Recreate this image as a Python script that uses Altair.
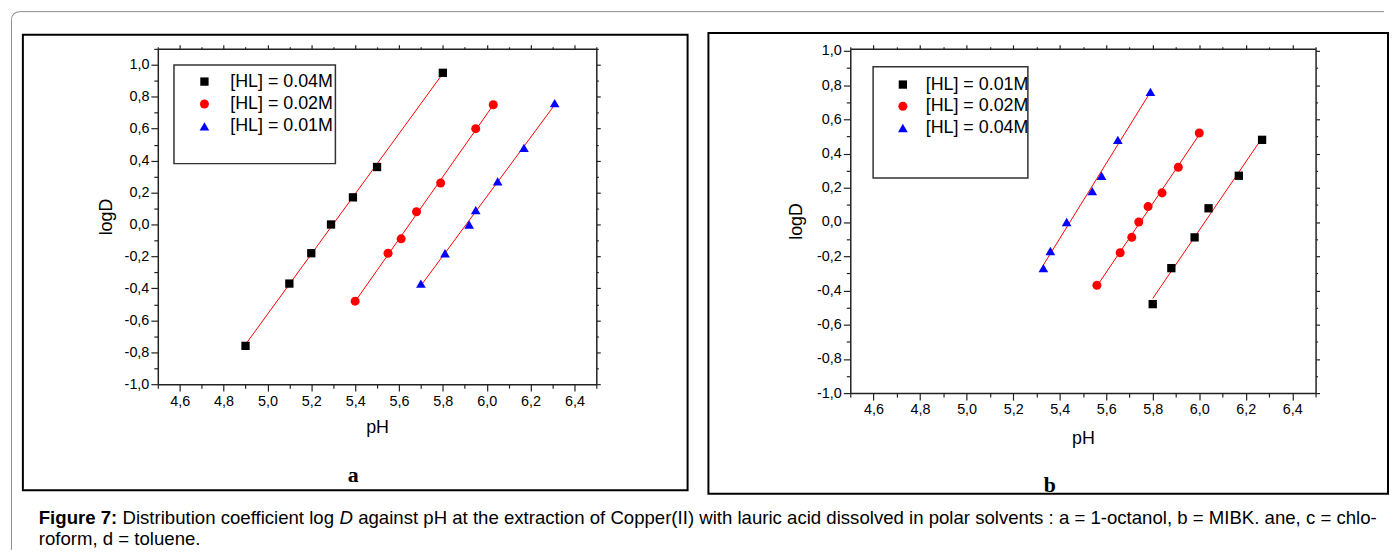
import altair as alt
import pandas as pd

# ---------------- data ----------------
A_LABELS = ["[HL] = 0.04M", "[HL] = 0.02M", "[HL] = 0.01M"]
A_PH_1 = [4.90, 5.10, 5.20, 5.29, 5.39, 5.50, 5.80]
A_LOGD_1 = [-0.76, -0.37, -0.18, 0.00, 0.17, 0.36, 0.95]
A_PH_2 = [5.40, 5.55, 5.61, 5.68, 5.79, 5.95, 6.03]
A_LOGD_2 = [-0.48, -0.18, -0.09, 0.08, 0.26, 0.60, 0.75]
A_PH_3 = [5.70, 5.81, 5.92, 5.95, 6.05, 6.17, 6.31]
A_LOGD_3 = [-0.37, -0.18, 0.00, 0.09, 0.27, 0.48, 0.76]

B_LABELS = ["[HL] = 0.01M", "[HL] = 0.02M", "[HL] = 0.04M"]
B_PH_1 = [5.80, 5.88, 5.98, 6.04, 6.17, 6.27]
B_LOGD_1 = [-0.48, -0.27, -0.09, 0.08, 0.27, 0.48]
B_PH_2 = [5.56, 5.66, 5.71, 5.74, 5.78, 5.84, 5.91, 6.00]
B_LOGD_2 = [-0.37, -0.18, -0.09, 0.00, 0.09, 0.17, 0.32, 0.52]
B_PH_3 = [5.33, 5.36, 5.43, 5.54, 5.58, 5.65, 5.79]
B_LOGD_3 = [-0.27, -0.17, 0.00, 0.18, 0.27, 0.48, 0.76]

COLORS = ["black", "#ff0000", "#0000ff"]
SHAPES = ["square", "circle", "triangle-up"]
SIZES = [70, 95, 130]

X_TICKS = [4.5, 4.6, 4.7, 4.8, 4.9, 5.0, 5.1, 5.2, 5.3, 5.4, 5.5, 5.6, 5.7,
           5.8, 5.9, 6.0, 6.1, 6.2, 6.3, 6.4, 6.5]
Y_TICKS_A = [-1.0, -0.9, -0.8, -0.7, -0.6, -0.5, -0.4, -0.3, -0.2, -0.1, 0.0,
             0.1, 0.2, 0.3, 0.4, 0.5, 0.6, 0.7, 0.8, 0.9, 1.0, 1.1]
Y_TICKS_B = [-1.0, -0.9, -0.8, -0.7, -0.6, -0.5, -0.4, -0.3, -0.2, -0.1, 0.0,
             0.1, 0.2, 0.3, 0.4, 0.5, 0.6, 0.7, 0.8, 0.9, 1.0]

CAPTION_1 = "Figure 7:"
CAPTION_2 = "Distribution coefficient log"
CAPTION_3 = "D"
CAPTION_4 = ("against pH at the extraction of Copper(II) with lauric acid dissolved in "
             "polar solvents : a = 1-octanol, b = MIBK. ane, c =  chlo-")
CAPTION_5 = "roform, d = toluene."


def make_df(labels, phs, logds):
    rows = []
    for lab, ph, ld in zip(labels, phs, logds):
        for p, v in zip(ph, ld):
            rows.append({"series": lab, "pH": p, "logD": v})
    return pd.DataFrame(rows)


df_a = make_df(A_LABELS, [A_PH_1, A_PH_2, A_PH_3], [A_LOGD_1, A_LOGD_2, A_LOGD_3])
df_b = make_df(B_LABELS, [B_PH_1, B_PH_2, B_PH_3], [B_LOGD_1, B_LOGD_2, B_LOGD_3])

MAJOR = "abs(round(datum.value*10)) % 2 == 0"
LABEL_EXPR = ("abs(round(datum.value*10)) % 2 == 0 ? "
              "(datum.value < -0.001 ? '-' : '') + replace(format(abs(datum.value), '.1f'), '.', ',') : ''")
FONT = "Liberation Sans"
ONE = alt.Data(values=[{"k": 1}])


def deco_text(txt, x, y, size, weight="normal", style="normal", font=FONT, align="left"):
    return alt.Chart(ONE).mark_text(
        text=txt, align=align, baseline="middle", font=font, fontSize=size,
        fontWeight=weight, fontStyle=style, color="black"
    ).encode(x=alt.value(x), y=alt.value(y))


def panel(df, labels, width, height, ydom, yticks, leg, box, frame, letter, xtitle_pad, ytitle_pad):
    xs = alt.Scale(domain=[4.5, 6.5], nice=False, zero=False)
    ys = alt.Scale(domain=ydom, nice=False, zero=False)
    legend = alt.Legend(
        orient="none", legendX=leg[0], legendY=leg[1], title=None,
        labelFont=FONT, labelFontSize=18, labelColor="black",
        symbolStrokeWidth=0, padding=0, rowPadding=leg[3],
        labelOffset=leg[2], strokeColor=None,
    )
    color = alt.Color("series:N", scale=alt.Scale(domain=labels, range=COLORS), legend=legend)
    shape = alt.Shape("series:N", scale=alt.Scale(domain=labels, range=SHAPES), legend=legend)
    size = alt.Size("series:N", scale=alt.Scale(domain=labels, range=SIZES), legend=legend)

    box_layer = alt.Chart(ONE).mark_rect(fill="white", stroke="#333333", strokeWidth=1.5).encode(
        x=alt.value(box[0]), x2=alt.value(box[1]), y=alt.value(box[2]), y2=alt.value(box[3]))

    frame_layer = alt.Chart(ONE).mark_rect(fillOpacity=0, stroke="black", strokeWidth=2).encode(
        x=alt.value(frame[0]), x2=alt.value(frame[1]), y=alt.value(frame[2]), y2=alt.value(frame[3]))

    fit = alt.Chart(df).transform_regression(
        "pH", "logD", groupby=["series"]
    ).mark_line(color="#ff0000", strokeWidth=1).encode(
        x=alt.X("pH:Q", scale=xs, axis=None),
        y=alt.Y("logD:Q", scale=ys, axis=None),
        detail="series:N",
    )

    pts = alt.Chart(df).mark_point(filled=True, opacity=1).encode(
        x=alt.X("pH:Q", scale=xs, title="pH", axis=alt.Axis(
            values=X_TICKS, labelExpr=LABEL_EXPR, labelPadding=3, titlePadding=xtitle_pad,
            tickSize={"condition": {"test": MAJOR, "value": 7}, "value": 4})),
        y=alt.Y("logD:Q", scale=ys, title="logD", axis=alt.Axis(
            values=yticks, labelExpr=LABEL_EXPR, labelPadding=2, titlePadding=ytitle_pad,
            tickSize={"condition": {"test": MAJOR, "value": 7}, "value": 4})),
        color=color,
        shape=shape,
        size=size,
    )

    mirror = alt.Chart(df).mark_point(opacity=0).encode(
        x=alt.X("pH:Q", scale=xs, axis=alt.Axis(
            orient="top", values=X_TICKS, labels=False, title=None,
            tickSize={"condition": {"test": MAJOR, "value": 4}, "value": 2})),
        y=alt.Y("logD:Q", scale=ys, axis=alt.Axis(
            orient="right", values=yticks, labels=False, title=None,
            tickSize={"condition": {"test": MAJOR, "value": 4}, "value": 2})),
    )

    letter_layer = deco_text(letter[0], letter[1], letter[2], 22, weight="bold",
                             font="Liberation Serif", align="center")

    return [frame_layer, box_layer, fit, pts, mirror, letter_layer], width, height


# ---- panel a (plot origin on page ~ (157, 47)) ----
layers_a, wa, ha = panel(
    df_a, A_LABELS, 442, 338, [-1.0, 1.1], Y_TICKS_A,
    leg=(38, 24, 17, 4.6), box=(16.3, 179, 16.3, 115.7), frame=(-136, 534, -14.3, 445),
    letter=("a", 197, 430), xtitle_pad=11, ytitle_pad=9,
)

# caption + outer rounded border (drawn in panel a's coordinate frame)
FS = 18.75
x0 = -120
cap = [
    deco_text(CAPTION_1, x0, 473, FS, weight="bold"),
    deco_text(CAPTION_2, x0 + (4.223 + 0.278) * FS, 473, FS),
    deco_text(CAPTION_3, x0 + 16.172 * FS, 473, FS, style="italic"),
    deco_text(CAPTION_4, x0 + (16.172 + 0.722 + 0.278) * FS, 473, FS),
    deco_text(CAPTION_5, x0, 494.5, FS),
]
BORDER = "#8c8c8c"
border = [
    alt.Chart(ONE).mark_rule(color=BORDER, strokeWidth=1).encode(
        x=alt.value(-139.5), x2=alt.value(1236), y=alt.value(-37.5)),
    alt.Chart(ONE).mark_rule(color=BORDER, strokeWidth=1).encode(
        x=alt.value(-147.5), y=alt.value(-29.5), y2=alt.value(505)),
    alt.Chart(ONE).mark_arc(theta=4.7124, theta2=6.2832, radius=8.5, radius2=7.5, color=BORDER).encode(
        x=alt.value(-139.5), y=alt.value(-29.5)),
]

chart_a = alt.layer(*(border + layers_a + cap)).resolve_axis(
    x="independent", y="independent").properties(width=wa, height=ha)

# ---- panel b (plot origin on page ~ (853, 47)) ----
layers_b, wb, hb = panel(
    df_b, B_LABELS, 469, 347, [-1.0, 1.0116], Y_TICKS_B,
    leg=(44, 27, 14, 3.9), box=(23, 179, 18, 130.3), frame=(-143, 542, -16, 448.5),
    letter=("b", 201, 440), xtitle_pad=13, ytitle_pad=11,
)
chart_b = alt.layer(*layers_b).resolve_axis(
    x="independent", y="independent").properties(width=wb, height=hb)

chart = alt.hconcat(chart_a, chart_b, spacing=256, bounds="flush").resolve_scale(
    x="independent", y="independent", color="independent", shape="independent", size="independent"
).resolve_legend(color="independent", shape="independent", size="independent").properties(
    padding={"left": 3, "top": 1, "right": 0, "bottom": 0},
    background="white",
).configure_axis(
    labelFont=FONT, labelFontSize=14.5, labelColor="black",
    titleFont=FONT, titleFontSize=18, titleFontWeight="normal", titleColor="black",
    domainColor="#222222", domainWidth=1.5, tickColor="#222222", tickWidth=1.2, grid=False,
).configure_view(stroke=None)

chart.save("out.html", embed_options={"renderer": "svg", "actions": False})
